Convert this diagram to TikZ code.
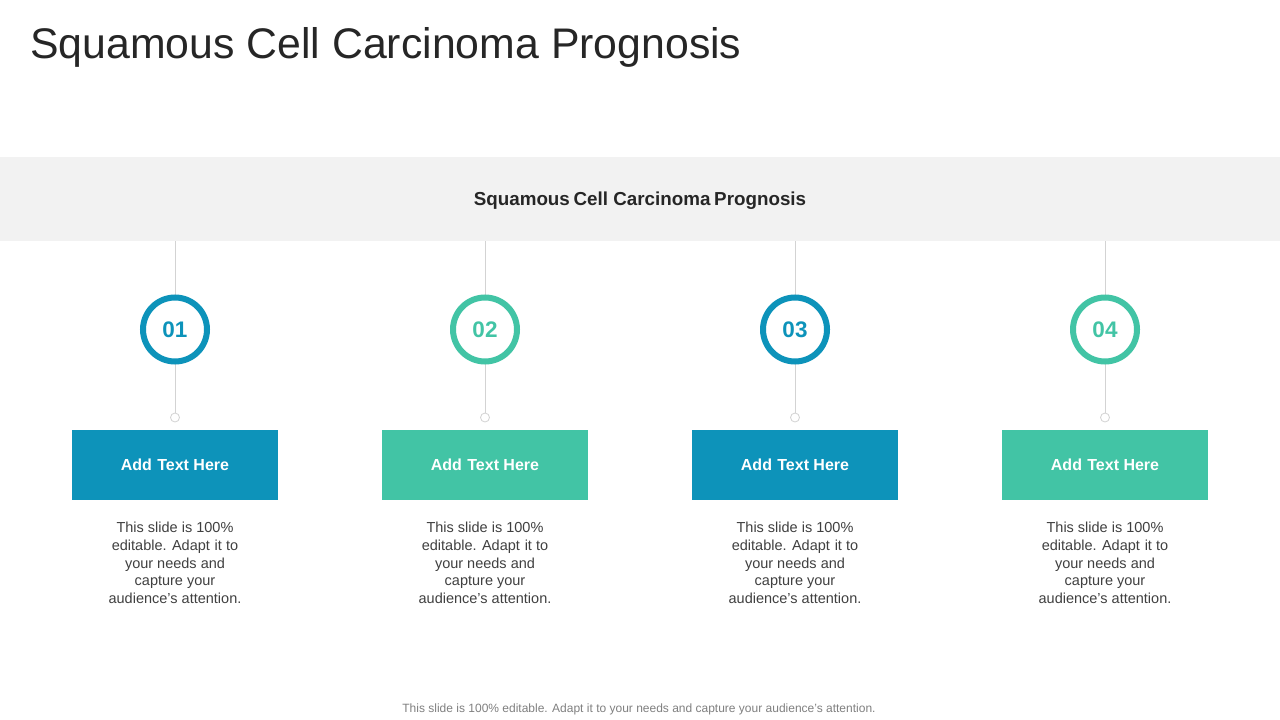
\documentclass[tikz,border=0pt]{standalone}
\usepackage{fontspec}
\setmainfont{Liberation Sans}
\definecolor{cblue}{HTML}{0D93BA}
\definecolor{cteal}{HTML}{42C4A5}
\definecolor{band}{HTML}{F2F2F2}
\definecolor{lgray}{HTML}{D3D3D3}
\definecolor{dtext}{HTML}{404040}
\definecolor{ftext}{HTML}{808080}
\tikzset{
  ring/.style={circle, draw=#1, line width=6pt, fill=white, minimum size=64pt, inner sep=0pt, text=#1, font=\fontsize{22.5}{24}\selectfont\bfseries},
  dotc/.style={circle, draw=lgray, line width=0.8pt, fill=white, minimum size=9pt, inner sep=0pt},
  tbox/.style={rectangle, fill=#1, minimum width=206pt, minimum height=70pt, inner sep=0pt, text=white, font=\fontsize{16}{18}\selectfont\bfseries},
  desc/.style={align=center, text=dtext, font=\fontsize{14.5}{17.7}\selectfont, inner sep=0pt, anchor=north},
  vline/.style={draw=lgray, line width=0.8pt}
}
\begin{document}
\begin{tikzpicture}[x=1pt,y=-1pt]
\useasboundingbox (0,0) rectangle (1280,720);
\fill[white] (0,0) rectangle (1280,720);
\node[anchor=base west, inner sep=0pt, text=black!85, font=\fontsize{42.8}{48}\selectfont] (title) at (30,58) {Squamous Cell Carcinoma Prognosis};
\fill[band] (0,157) rectangle (1280,241);
\node[font=\fontsize{18.8}{20}\selectfont\bfseries, text=black!85] (bandt) at (640,200.5) {Squamous\hspace{-1.5pt} Cell Carcinoma\hspace{-1.5pt} Prognosis};
\foreach \i/\x/\c in {1/175/cblue,2/485/cteal,3/795/cblue,4/1105/cteal}{
  \coordinate (top\i) at (\x,241);
  \draw[vline] (top\i) -- (\x,417);
  \node[ring=\c] (c\i) at (\x,329.5) {0\i};
  \node[dotc] (d\i) at (\x,417.5) {};
  \node[tbox=\c] (b\i) at (\x,464.5) {Add\,\,Text Here};
  \node[desc] (t\i) at (\x,522) {This slide is 100\%\\editable. Adapt\,\,it to\\your needs and\\capture your\\audience's attention.};
}
\node[text=ftext, font=\fontsize{12}{14}\selectfont] (foot) at (639,709) {This slide is 100\% editable. Adapt it to your needs and capture your audience's attention.};
\end{tikzpicture}
\end{document}
